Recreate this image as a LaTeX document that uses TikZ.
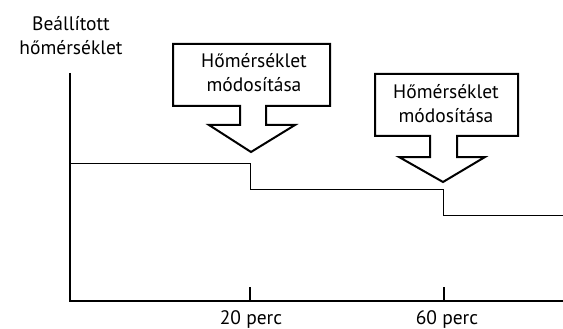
\documentclass[tikz,border=0pt]{standalone}
\usepackage{fontspec}
\setmainfont{PT Sans}
\begin{document}
\begin{tikzpicture}[x=1pt,y=-1pt,
  lbl/.style={font=\fontsize{19.5}{24}\selectfont, align=center, inner sep=0pt, anchor=base},
  callout/.style={draw=black, line width=2pt, line join=miter, fill=white},
  axis/.style={line width=1.4pt},
  level/.style={line width=1pt}]
\useasboundingbox (0,0) rectangle (563,329);
% axes
\coordinate (o) at (70,301);
\coordinate (ytop) at (70,73);
\coordinate (xend) at (563,301);
\draw[axis] (ytop) -- (o) -- (xend);
\coordinate (t1) at (250,301);
\coordinate (t2) at (444,301);
\draw[axis] (t1) -- ++(0,-14);
\draw[axis] (t2) -- ++(0,-14);
\node[lbl] (l1) at (251,324) {20 perc};
\node[lbl] (l2) at (447,324) {60 perc};
\node[lbl, align=center] (ylab) at (71,55) {Beállított\\hőmérséklet};
% step line
\coordinate (s0) at (70,163);
\coordinate (s1) at (250,163);
\coordinate (s2) at (250,189);
\coordinate (s3) at (443,189);
\coordinate (s4) at (443,215);
\coordinate (s5) at (563,215);
\draw[level] (s0) -- (s1) -- (s2) -- (s3) -- (s4) -- (s5);
% callout 1
\draw[callout] (173,44) -- (330,44) -- (330,106) -- (266,106) -- (266,125) -- (295,125)
  -- (251,152) -- (209,125) -- (240,125) -- (240,106) -- (173,106) -- cycle;
\node[lbl] (c1) at (254,92) {Hőmérséklet\\módosítása};
% callout 2
\draw[callout] (375,74) -- (518,74) -- (518,136) -- (457,136) -- (457,157) -- (485,157)
  -- (443,182) -- (399,157) -- (430,157) -- (430,136) -- (375,136) -- cycle;
\node[lbl] (c2) at (446,122) {Hőmérséklet\\módosítása};
\end{tikzpicture}
\end{document}
